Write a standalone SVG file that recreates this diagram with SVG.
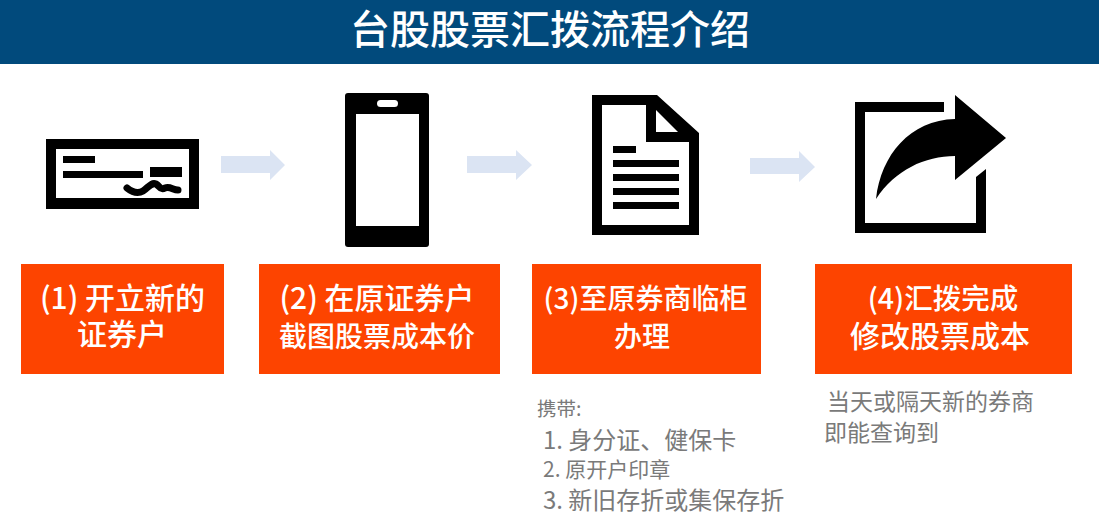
<svg xmlns="http://www.w3.org/2000/svg" width="1099" height="519" viewBox="0 0 1099 519">
<style>
text{font-family:"Noto Sans CJK SC","Noto Sans",sans-serif}
.box{fill:#fd4400}
.t{fill:#fff;font-weight:500;text-anchor:middle}
.g{fill:#7a7a7a}
.k{fill:#000}
.w{fill:#fff}
.a{fill:#dbe4f3}
</style>
<rect width="1099" height="519" fill="#fff"/>
<g id="header"><rect width="1099" height="64" fill="#014a7c"/><text x="550" y="44" font-size="40" font-weight="500" fill="#fff" text-anchor="middle">台股股票汇拨流程介绍</text></g>
<g id="connectors">
<path class="a" d="M221 156H270V150L285 165L270 180V173H221Z"/>
<path class="a" d="M467 156H516V150L532 165L516 180V173H467Z"/>
<path class="a" d="M750 158H799V151L815 167L799 182V174H750Z"/>
</g>
<g id="node1">
<path class="k" fill-rule="evenodd" d="M46 139H199V209H46ZM56 149V198H189V149Z"/>
<rect class="k" x="63" y="156" width="32" height="7"/><rect class="k" x="63" y="171" width="80" height="7"/><rect class="k" x="150" y="167" width="32" height="10"/>
<path d="M127 188C132 192 138 194 143 191C148 188 151 182 156 184C160 186 160 191 165 188C170 186 173 190 178 190" fill="none" stroke="#000" stroke-width="7" stroke-linecap="round"/>
</g>
<g id="node2">
<rect class="k" x="345" y="93" width="84" height="154" rx="3"/><rect class="w" x="356" y="114" width="63" height="112"/><rect class="w" x="377" y="100" width="21" height="7" rx="3.5"/>
</g>
<g id="node3">
<path class="k" fill-rule="evenodd" d="M592 95H657L699 133V235H592ZM602 105V225H689V142H646V105ZM656 110V132H678Z"/>
<rect class="k" x="613" y="146" width="23" height="7"/><rect class="k" x="613" y="160" width="66" height="7"/><rect class="k" x="613" y="174" width="66" height="7"/><rect class="k" x="613" y="188" width="66" height="7"/><rect class="k" x="613" y="202" width="66" height="7"/>
</g>
<g id="node4">
<path class="k" d="M855 102H944V112H865V223H976V177L986 169V233H855Z"/>
<path class="k" d="M955 95L1006 138L955 180V156C925 156 895 170 876 199C881 155 910 120 955 119Z"/>
</g>
<g id="step1"><rect class="box" x="21" y="264" width="203" height="110"/><text class="t" font-size="30" x="122.500" y="309">(1) 开立新的</text><text class="t" font-size="30" x="122" y="345">证券户</text></g>
<g id="step2"><rect class="box" x="259" y="264" width="241" height="110"/><text class="t" font-size="30" x="377" y="309">(2) 在原证券户</text><text class="t" font-size="28" x="377" y="347">截图股票成本价</text></g>
<g id="step3"><rect class="box" x="532" y="264" width="229" height="110"/><text class="t" font-size="28" x="645.500" y="309">(3)至原券商临柜</text><text class="t" font-size="28" x="642" y="347">办理</text></g>
<g id="step4"><rect class="box" x="815" y="264" width="257" height="110"/><text class="t" font-size="28.500" x="943" y="309">(4)汇拨完成</text><text class="t" font-size="30" x="940" y="347">修改股票成本</text></g>
<g id="note3" class="g">
<text x="537" y="416" font-size="19.500">携带:</text>
<text x="543" y="449" font-size="24">1. 身分证、健保卡</text>
<text x="543" y="477" font-size="21">2. 原开户印章</text>
<text x="543" y="509" font-size="24">3. 新旧存折或集保存折</text>
</g>
<g id="note4" class="g">
<text x="827" y="410" font-size="23">当天或隔天新的券商</text>
<text x="824" y="441" font-size="23">即能查询到</text>
</g>
</svg>
